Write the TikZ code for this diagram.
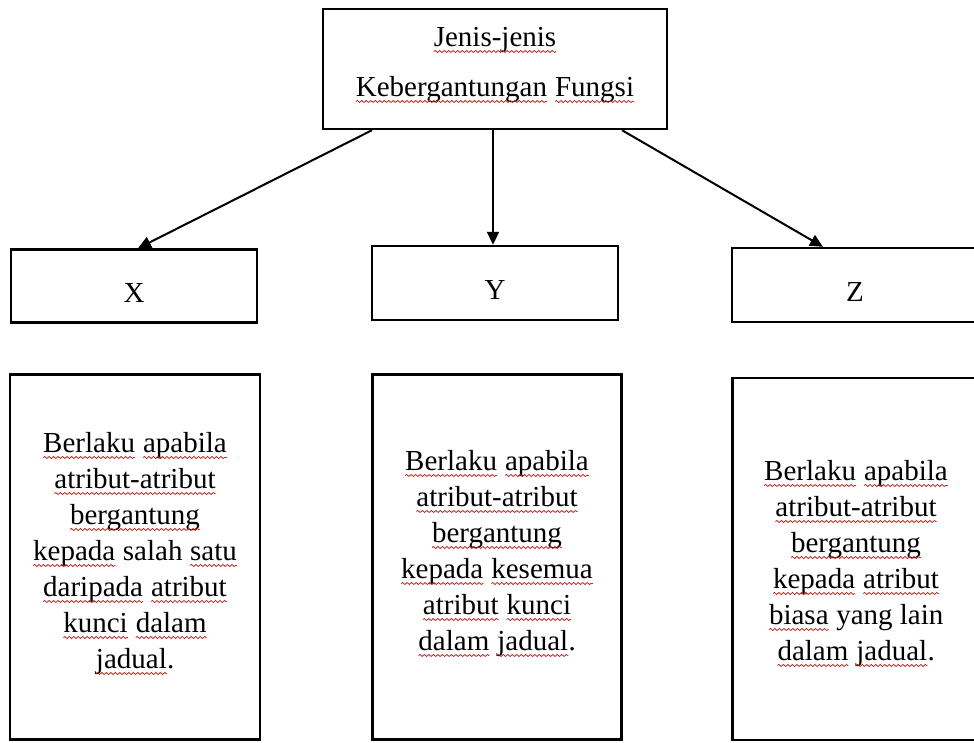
\documentclass[tikz,border=0pt]{standalone}
\usepackage{fontspec}
\setmainfont{Liberation Serif}
\usetikzlibrary{arrows.meta,positioning,decorations.pathmorphing}
\definecolor{squig}{RGB}{200,35,35}
\newcommand\sq[1]{\tikz[baseline=(w.base)]{\node[inner sep=0pt,outer sep=0pt,draw=none,fill=none,minimum size=0pt](w){#1};\draw[squig,line width=0.8pt,decorate,decoration={snake,amplitude=1pt,segment length=4.5pt}] ([yshift=-4.5pt]w.base west) -- ([yshift=-4.5pt]w.base east);}}
\tikzset{
    boite/.style={draw,line width=2.4pt,fill=white,inner sep=0pt},
    lettre/.style={boite,minimum width=246pt,text height=32pt,text depth=0pt,font=\fontsize{29}{36}\selectfont},
    fleche/.style={line width=2pt,-{Triangle[length=13pt,width=12pt]}},
    texte/.style={align=center,font=\fontsize{29}{36}\selectfont},
  }
\begin{document}
\begin{tikzpicture}[x=1pt,y=-1pt]
          \useasboundingbox (0,0) rectangle (974,742);
          %FOND
          \fill[white] (0,0) rectangle (974,742);
          %TITRE
          \node[boite,minimum width=344pt,minimum height=120pt] (jenis) at (495,69) {};
          \node[texte,font=\fontsize{29}{50}\selectfont] (titre) at ([yshift=3.5pt]jenis.center) {\sq{Jenis-jenis}\\\sq{Kebergantungan} \sq{Fungsi}};
          %X,Y,Z
          \node[lettre,minimum height=73pt] (X) at (134,286) {X};
          \node[lettre,minimum height=74pt] (Y) at (495,283) {Y};
          \node[lettre,minimum height=74pt] (Z) at (855,285) {Z};
          %FLECHES
          \draw[fleche] ([xshift=-123pt]jenis.south) -- ([xshift=4pt]X.north);
          \draw[fleche] ([xshift=-2pt]jenis.south) -- ([xshift=-2pt]Y.north);
          \draw[fleche] ([xshift=127pt]jenis.south) -- ([xshift=-32pt]Z.north);
          %CADRES DU BAS
          \node[boite,minimum width=250pt,minimum height=365pt] (cadreX) at (135,557) {};
          \node[boite,minimum width=249pt,minimum height=365pt] (cadreY) at (497,557) {};
          \node[boite,minimum width=247pt,minimum height=362pt] (cadreZ) at (856,559) {};
          %TEXTES
          \node[texte] (texteX) at ([yshift=3pt]cadreX.center) {\sq{Berlaku} \sq{apabila}\\\sq{atribut-atribut}\\\sq{bergantung}\\\sq{kepada} salah \sq{satu}\\\sq{daripada} \sq{atribut}\\\sq{kunci} \sq{dalam}\\\sq{jadual}.};
          \node[texte] (texteY) at ([yshift=3pt]cadreY.center) {\sq{Berlaku} \sq{apabila}\\\sq{atribut-atribut}\\\sq{bergantung}\\\sq{kepada} \sq{kesemua}\\\sq{atribut} \sq{kunci}\\\sq{dalam} \sq{jadual}.};
          \node[texte] (texteZ) at ([yshift=-5pt]cadreZ.center) {\sq{Berlaku} \sq{apabila}\\\sq{atribut-atribut}\\\sq{bergantung}\\\sq{kepada} \sq{atribut}\\\sq{biasa} yang lain\\\sq{dalam} \sq{jadual}.};
\end{tikzpicture}
\end{document}
